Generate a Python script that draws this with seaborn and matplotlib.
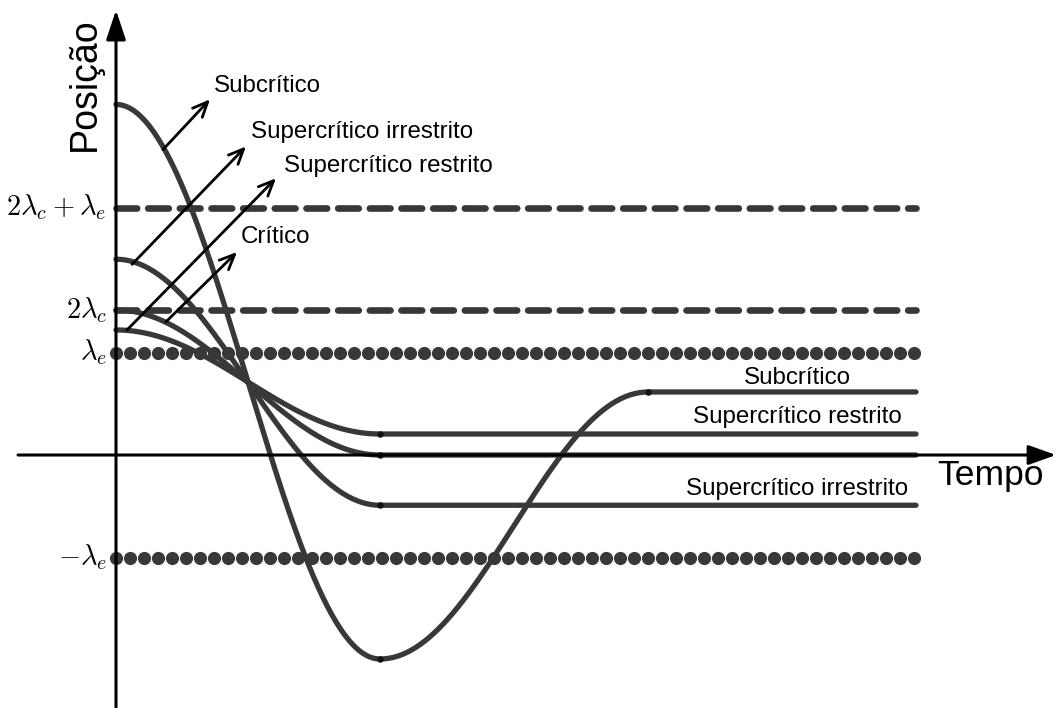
import numpy as np
import pandas as pd
import matplotlib
matplotlib.use("Agg")
import matplotlib.pyplot as plt
import seaborn as sns

# Reference levels (in units of the position axis)
lam_e = 1.0
lam_c = 0.707
level_names = [r"$2\lambda_c+\lambda_e$", r"$2\lambda_c$", r"$\lambda_e$", r"$-\lambda_e$"]
level_values = [2 * lam_c + lam_e, 2 * lam_c, lam_e, -lam_e]
level_styles = ["dashed", "dashed", "dotted", "dotted"]

# Regimes: initial position, position at the turning time, final position
regimes = ["Subcrítico", "Supercrítico irrestrito", "Crítico", "Supercrítico restrito"]
start_pos = [3.42, 1.91, 1.415, 1.22]
turn_pos = [-1.99, -0.49, 0.0, 0.205]
final_pos = [0.615, -0.49, 0.0, 0.205]

t_turn = 2.64      # end of the first half-swing
t_settle = 5.32    # subcritical settles here
t_end = 8.0

line_color = "#383838"

sns.set_theme(style="white")
plt.rcParams["font.family"] = ["Liberation Sans", "DejaVu Sans"]
plt.rcParams["mathtext.fontset"] = "cm"
plt.rcParams["text.color"] = "black"

fig = plt.figure(figsize=(10.57, 7.08), dpi=100)
ax = fig.add_axes([0, 0, 1, 1])
ax.set_xlim(-1.16, 9.41)
ax.set_ylim(-2.468, 4.439)
ax.axis("off")

# Build trajectories as half-cosine swings between the listed positions
rows = []
for name, y0, y1, y2 in zip(regimes, start_pos, turn_pos, final_pos):
    t1 = np.linspace(0, t_turn, 120)
    s1 = (1 - np.cos(np.pi * t1 / t_turn)) / 2
    seg = [(t, y0 + (y1 - y0) * s) for t, s in zip(t1, s1)]
    if name == "Subcrítico":
        t2 = np.linspace(t_turn, t_settle, 120)[1:]
        s2 = (1 - np.cos(np.pi * (t2 - t_turn) / (t_settle - t_turn))) / 2
        seg += [(t, y1 + (y2 - y1) * s) for t, s in zip(t2, s2)]
    seg += [(t_end, y2)]
    for t, y in seg:
        rows.append({"regime": name, "tempo": t, "posicao": y})
df = pd.DataFrame(rows)

# Reference levels
for val, style in zip(level_values, level_styles):
    if style == "dashed":
        ax.plot([0, t_end], [val, val], color=line_color, lw=4.8,
                linestyle=(0, (3.1, 1.65)), dash_capstyle="round", zorder=2)
    else:
        dots = np.arange(0, t_end + 0.01, 0.14)
        ax.scatter(dots, np.full_like(dots, val), s=90, color=line_color,
                   linewidths=0, zorder=2)

sns.lineplot(data=df, x="tempo", y="posicao", units="regime", estimator=None,
             sort=False, color=line_color, lw=3.8, ax=ax, zorder=3,
             solid_capstyle="round", legend=False)

# Joints between curved and flat parts
joint_t = [t_turn] * 4 + [t_settle]
joint_y = turn_pos + [final_pos[0]]
ax.scatter(joint_t, joint_y, s=22, color="#111111", zorder=4, linewidths=0)

# Axes with arrowheads
ax.annotate("", xy=(9.40, 0), xytext=(-0.98, 0), annotation_clip=False,
            arrowprops=dict(arrowstyle="-|>,head_length=1.4,head_width=0.5",
                            color="black", lw=2.2, shrinkA=0, shrinkB=0), zorder=5)
ax.annotate("", xy=(0, 4.34), xytext=(0, -2.47), annotation_clip=False,
            arrowprops=dict(arrowstyle="-|>,head_length=1.5,head_width=0.5",
                            color="black", lw=2.2, shrinkA=0, shrinkB=0), zorder=5)

ax.text(-0.31, 3.62, "Posição", rotation=90, ha="center", va="center", fontsize=27)
ax.text(8.74, -0.2, "Tempo", ha="center", va="center", fontsize=25.5)

# Level tick labels
for name, val in zip(level_names, level_values):
    ax.text(-0.09, val, name, ha="right", va="center", fontsize=20.5)

# Labels pointing at the start of each curve
label_txt = ["Subcrítico", "Supercrítico irrestrito", "Supercrítico restrito", "Crítico"]
arrow_from = [(0.47, 2.98), (0.16, 1.86), (0.11, 1.22), (0.50, 1.30)]
arrow_to = [(0.94, 3.47), (1.30, 3.01), (1.60, 2.70), (1.21, 1.98)]
label_at = [(0.98, 3.60), (1.35, 3.15), (1.68, 2.82), (1.25, 2.13)]
for txt, p0, p1, p2 in zip(label_txt, arrow_from, arrow_to, label_at):
    ax.annotate("", xy=p1, xytext=p0,
                arrowprops=dict(arrowstyle="->,head_length=0.9,head_width=0.4",
                                color="black", lw=2.0, shrinkA=0, shrinkB=0), zorder=5)
    ax.text(p2[0], p2[1], txt, ha="left", va="center", fontsize=17.4)

# Labels of the settled positions
ax.text(6.81, 0.75, "Subcrítico", ha="center", va="center", fontsize=17.4)
ax.text(7.86, 0.37, "Supercrítico restrito", ha="right", va="center", fontsize=17.4)
ax.text(7.92, -0.33, "Supercrítico irrestrito", ha="right", va="center", fontsize=17.4)

fig.savefig("out.png", dpi=100)
